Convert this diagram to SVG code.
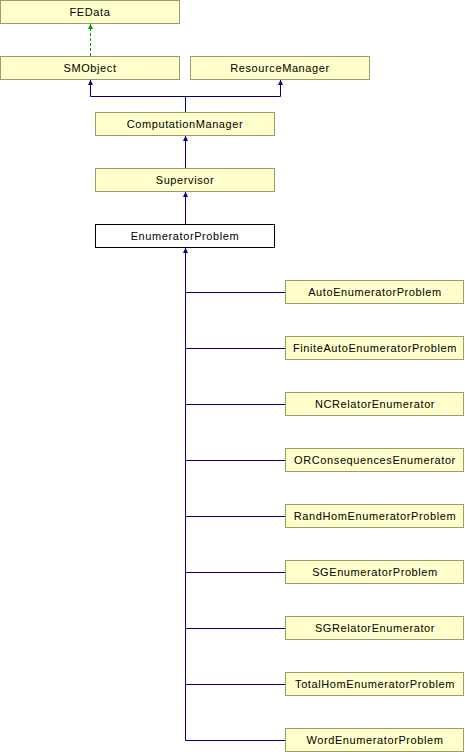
<svg xmlns="http://www.w3.org/2000/svg" width="465" height="752" viewBox="0 0 465 752">
<style>
.n rect{fill:#ffffcc;stroke:#9c9c6a;stroke-width:1}
.n.cur rect{fill:#ffffff;stroke:#000000}
.n text{font-family:"Liberation Sans",Arial,sans-serif;font-size:11px;letter-spacing:0.6px;fill:#000;text-anchor:middle}
.e{fill:none;stroke:#000080;stroke-width:1}
.g{fill:none;stroke:#009900;stroke-width:1;stroke-dasharray:3,2}
</style>
<defs>
<marker id="ab" markerWidth="6" markerHeight="6" refX="5" refY="3" orient="auto" markerUnits="userSpaceOnUse"><path d="M0,0.5 L5,3 L0,5.5 Z" fill="#000080"/></marker>
<marker id="ag" markerWidth="6" markerHeight="6" refX="5" refY="3" orient="auto" markerUnits="userSpaceOnUse"><path d="M0,0.5 L5,3 L0,5.5 Z" fill="#009900"/></marker>
</defs>
<g id="connectors">
<path class="g" d="M90.5,56 V24" marker-end="url(#ag)"/>
<path class="e" d="M185.5,112 V96.5 H90.5 V80" marker-end="url(#ab)"/>
<path class="e" d="M185.5,96.5 H280.5 V80" marker-end="url(#ab)"/>
<path class="e" d="M185.5,168 V136" marker-end="url(#ab)"/>
<path class="e" d="M185.5,224 V192" marker-end="url(#ab)"/>
<path class="e" d="M185.5,740.5 V248" marker-end="url(#ab)"/>
<path class="e" d="M185.5,292.5 H285.5 M185.5,348.5 H285.5 M185.5,404.5 H285.5 M185.5,460.5 H285.5 M185.5,516.5 H285.5 M185.5,572.5 H285.5 M185.5,628.5 H285.5 M185.5,684.5 H285.5 M185.5,740.5 H285.5"/>
</g>
<g id="FEData" class="n"><rect x="0.5" y="0.5" width="179" height="23"/><text x="90" y="16">FEData</text></g>
<g id="SMObject" class="n"><rect x="0.5" y="56.5" width="179" height="23"/><text x="90" y="72">SMObject</text></g>
<g id="ResourceManager" class="n"><rect x="190.5" y="56.5" width="179" height="23"/><text x="280" y="72">ResourceManager</text></g>
<g id="ComputationManager" class="n"><rect x="95.5" y="112.5" width="179" height="23"/><text x="185" y="128">ComputationManager</text></g>
<g id="Supervisor" class="n"><rect x="95.5" y="168.5" width="179" height="23"/><text x="185" y="184">Supervisor</text></g>
<g id="EnumeratorProblem" class="n cur"><rect x="95.5" y="224.5" width="179" height="23"/><text x="185" y="240">EnumeratorProblem</text></g>
<g id="AutoEnumeratorProblem" class="n"><rect x="285.5" y="280.5" width="178" height="23"/><text x="375" y="296">AutoEnumeratorProblem</text></g>
<g id="FiniteAutoEnumeratorProblem" class="n"><rect x="285.5" y="336.5" width="178" height="23"/><text x="375" y="352">FiniteAutoEnumeratorProblem</text></g>
<g id="NCRelatorEnumerator" class="n"><rect x="285.5" y="392.5" width="178" height="23"/><text x="375" y="408">NCRelatorEnumerator</text></g>
<g id="ORConsequencesEnumerator" class="n"><rect x="285.5" y="448.5" width="178" height="23"/><text x="375" y="464">ORConsequencesEnumerator</text></g>
<g id="RandHomEnumeratorProblem" class="n"><rect x="285.5" y="504.5" width="178" height="23"/><text x="375" y="520">RandHomEnumeratorProblem</text></g>
<g id="SGEnumeratorProblem" class="n"><rect x="285.5" y="560.5" width="178" height="23"/><text x="375" y="576">SGEnumeratorProblem</text></g>
<g id="SGRelatorEnumerator" class="n"><rect x="285.5" y="616.5" width="178" height="23"/><text x="375" y="632">SGRelatorEnumerator</text></g>
<g id="TotalHomEnumeratorProblem" class="n"><rect x="285.5" y="672.5" width="178" height="23"/><text x="375" y="688">TotalHomEnumeratorProblem</text></g>
<g id="WordEnumeratorProblem" class="n"><rect x="285.5" y="728.5" width="178" height="23"/><text x="375" y="744">WordEnumeratorProblem</text></g>
</svg>
